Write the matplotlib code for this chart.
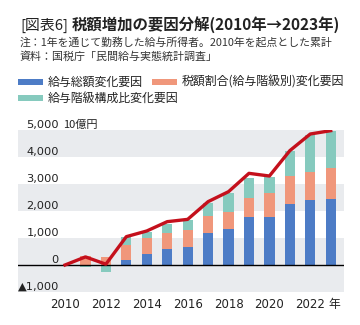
import matplotlib
matplotlib.use("Agg")
import matplotlib.pyplot as plt
from matplotlib.patches import Rectangle
import matplotlib.transforms as mtransforms
import numpy as np

plt.rcParams['font.family'] = ['Noto Sans CJK JP', 'DejaVu Sans']

years = [2010, 2011, 2012, 2013, 2014, 2015, 2016, 2017, 2018, 2019, 2020, 2021, 2022, 2023]
salary_total = [0, 0, 0, 185, 407, 580, 679, 1173, 1327, 1790, 1790, 2259, 2407, 2444]
tax_rate = [0, 344, 285, 555, 581, 593, 617, 654, 623, 679, 889, 1050, 1050, 1161]
composition = [0, -63, -248, 285, 247, 330, 371, 457, 729, 741, 568, 926, 1358, 1370]
total_line = [0, 300, 30, 1050, 1260, 1605, 1690, 2346, 2716, 3395, 3296, 4235, 4852, 4975]

series_names = ['給与総額変化要因', '税額割合(給与階級別)変化要因', '給与階級構成比変化要因']
colors = ['#4d7cc6', '#f0977b', '#86cabe']
line_color = '#c4101c'
band_color = '#e9ebee'

yticks = [-1000, 0, 1000, 2000, 3000, 4000, 5000]
ytick_labels = ['▲1,000', '0', '1,000', '2,000', '3,000', '4,000', '5,000']
xticks = [2010, 2012, 2014, 2016, 2018, 2020, 2022, 2023.2]
xtick_labels = ['2010', '2012', '2014', '2016', '2018', '2020', '2022', '年']

tick_family = ['DejaVu Sans', 'Noto Sans CJK JP']

W, H = 360, 325
fig = plt.figure(figsize=(W / 100, H / 100), dpi=100)
ax = fig.add_axes([18 / W, 1 - 292 / H, (344 - 18) / W, (292 - 130) / H])

# background bands
for lo, hi in [(-1000, 1000), (2000, 3000), (4000, 5000)]:
    ax.axhspan(lo, hi, color=band_color, lw=0, zorder=0)

x = np.array(years, dtype=float)
s = np.array(salary_total, dtype=float)
t = np.array(tax_rate, dtype=float)
c = np.array(composition, dtype=float)

pos_base = np.zeros_like(x)
neg_base = np.zeros_like(x)
bw = 0.5
for vals, col in zip([s, t, c], colors):
    bottoms = np.where(vals >= 0, pos_base, neg_base)
    ax.bar(x, vals, bottom=bottoms, width=bw, color=col, lw=0, zorder=2)
    pos_base = pos_base + np.where(vals >= 0, vals, 0)
    neg_base = neg_base + np.where(vals < 0, vals, 0)

ax.axhline(0, color='black', lw=1.0, zorder=3)
ax.plot(years, total_line, color=line_color, lw=2.4, zorder=4, solid_joinstyle='round')

ax.set_xlim(2007.7, 2023.65)
ax.set_ylim(-1000, 5000)
for sp in ax.spines.values():
    sp.set_visible(False)

ax.set_yticks(yticks)
ax.set_yticklabels(ytick_labels, fontsize=8.2, color='#222222', family=tick_family)
ax.tick_params(axis='y', length=0, pad=-(59 - 18) * 0.72)
for lbl in ax.get_yticklabels():
    lbl.set_va('bottom')
ax.set_xticks(xticks)
ax.set_xticklabels(xtick_labels, fontsize=8.5, color='#222222', family=tick_family)
ax.tick_params(axis='x', length=0, pad=4)

ax.text(63 / W, 5000, '10億円',
        transform=mtransforms.blended_transform_factory(fig.transFigure, ax.transData),
        fontsize=8.0, va='bottom', ha='left', color='#222222')

# Title and notes
fig.text(20 / W, 1 - 25 / H, '[図表6]', fontsize=10.7, va='center', ha='left', color='#222222')
fig.text(72 / W, 1 - 25 / H, '税額増加の要因分解(2010年→2023年)', fontsize=11.1, fontweight='bold',
         va='center', ha='left', color='#222222')
fig.text(20 / W, 1 - 42 / H, '注：1年を通じて勤務した給与所得者。2010年を起点とした累計', fontsize=7.8,
         va='center', ha='left', color='#333333')
fig.text(20 / W, 1 - 57 / H, '資料：国税庁「民間給与実態統計調査」', fontsize=7.9,
         va='center', ha='left', color='#333333')

# Legend
leg_items = [(18, 82, 0), (152, 82, 1), (18, 98, 2)]
for px, py, i in leg_items:
    fig.patches.append(Rectangle((px / W, 1 - (py + 3) / H), 25 / W, 6 / H,
                                 transform=fig.transFigure, color=colors[i], lw=0))
    fig.text((px + 30) / W, 1 - py / H, series_names[i], fontsize=8.6, va='center', ha='left', color='#222222')

fig.savefig('out.png', dpi=100, facecolor='white')
